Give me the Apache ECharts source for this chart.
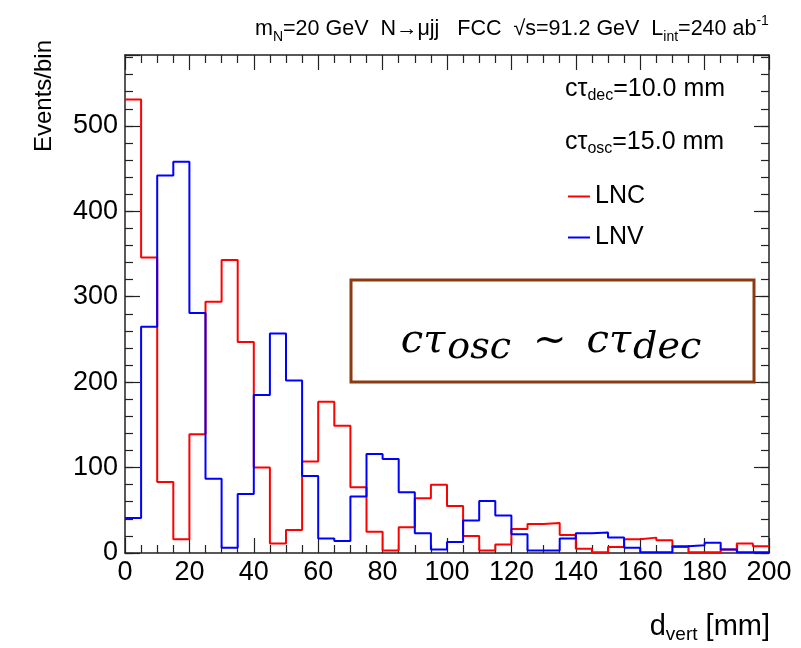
<!DOCTYPE html>
<html>
<head>
<meta charset="utf-8">
<script src="https://cdn.jsdelivr.net/npm/echarts@6/dist/echarts.min.js"></script>
<style>
html,body{margin:0;padding:0;background:#fff;}
#c{width:801px;height:648px;}
</style>
</head>
<body>
<div id="c"></div>
<script>
// bin left edges (mm), bin width 5 mm
var binStarts = [0,5,10,15,20,25,30,35,40,45,50,55,60,65,70,75,80,85,90,95,
                 100,105,110,115,120,125,130,135,140,145,150,155,160,165,170,175,180,185,190,195];
var binEnd = 200;
// LNC (red)
var lnc = [531,346,83,16,139,294,343,247,100,11,27,107,177,149,77,25,3,30,64,80,
           55,20,3,10,28,34,35,21,5,1,7,16,18,15,7,1,1,4,11,8];
// LNV (blue)
var lnv = [41,265,442,458,281,87,6,69,185,257,202,90,17,14,66,116,110,71,23,4,
           13,38,61,44,22,3,3,17,23,24,18,6,1,1,8,9,12,4,1,1];
var xTicks = [0,20,40,60,80,100,120,140,160,180,200];
var yTicks = [0,100,200,300,400,500];
var yMax = 583;

function stepData(vals){
  var d = binStarts.map(function(x,i){return [x, vals[i]];});
  d.push([binEnd, vals[vals.length-1]]);
  return d;
}

var FONT = 'Liberation Sans, Arial, Helvetica, sans-serif';
var SERIF = 'DejaVu Serif, Liberation Serif, serif';
var axisCol = '#222';

var chart = echarts.init(document.getElementById('c'), null, {renderer:'canvas'});

function xAx(pos, labels){
  return {
    type:'value', min:0, max:200, interval:20, position:pos,
    axisLine:{show:true, onZero:false, lineStyle:{color:axisCol, width:1.5}},
    axisTick:{show:true, inside:true, length:15, lineStyle:{color:axisCol, width:1.2}},
    minorTick:{show:true, splitNumber:4, length:8, lineStyle:{color:axisCol, width:1.2}},
    axisLabel:{show:labels, fontSize:27, fontFamily:FONT, color:'#000', margin:6},
    splitLine:{show:false}, minorSplitLine:{show:false}
  };
}
function yAx(pos, interval, tickLen, labels, line){
  return {
    type:'value', min:0, max:yMax, interval:interval, position:pos,
    axisLine:{show:line, onZero:false, lineStyle:{color:axisCol, width:1.5}},
    axisTick:{show:true, inside:true, length:tickLen, lineStyle:{color:axisCol, width:1.2}},
    axisLabel:{show:labels, fontSize:27, fontFamily:FONT, color:'#000', margin:7,
      formatter:function(v){ return yTicks.indexOf(v) >= 0 ? String(v) : ''; }},
    splitLine:{show:false}
  };
}

var option = {
  backgroundColor:'#fff',
  animation:false,
  grid:{left:125, top:55, right:32, bottom:95},
  xAxis:[ xAx('bottom', true), xAx('top', false) ],
  yAxis:[
    yAx('left', 100, 15, true, true),
    yAx('left', 20, 8, false, false),
    yAx('right', 100, 15, false, true),
    yAx('right', 20, 8, false, false)
  ],
  legend:{
    orient:'vertical', left:568, top:184, padding:0,
    itemWidth:22, itemHeight:2, itemGap:16, icon:'rect',
    textStyle:{fontSize:25, fontFamily:FONT, color:'#000', padding:[0,0,0,0]},
    data:['LNC','LNV']
  },
  series:[
    {name:'LNC', type:'line', step:'end', symbol:'none', xAxisIndex:0, yAxisIndex:0,
     data:stepData(lnc), color:'#ff0000', lineStyle:{color:'#ff0000', width:2}},
    {name:'LNV', type:'line', step:'end', symbol:'none', xAxisIndex:0, yAxisIndex:0,
     data:stepData(lnv), color:'#0000ff', lineStyle:{color:'#0000ff', width:2}}
  ],
  graphic:[
    // top title
    {type:'text', left:255, top:14, z:10, style:{
      text:'{m|m}{s|N}{m|=20 GeV  N\u2192\u03bcjj   FCC  \u221as=91.2 GeV  L}{s|int}{m|=240 ab}{p|-1}',
      rich:{
        m:{fontSize:21.5, fontFamily:FONT, lineHeight:30, verticalAlign:'middle', fill:'#000'},
        s:{fontSize:14, fontFamily:FONT, lineHeight:15, verticalAlign:'bottom', fill:'#000'},
        p:{fontSize:14, fontFamily:FONT, lineHeight:15, verticalAlign:'top', fill:'#000'}
      }
    }},
    // ctau labels
    {type:'text', left:565, top:77, z:10, style:{
      text:'{m|c\u03c4}{s|dec}{m|=10.0 mm}',
      rich:{
        m:{fontSize:25, fontFamily:FONT, lineHeight:28, verticalAlign:'middle', fill:'#000'},
        s:{fontSize:16, fontFamily:FONT, lineHeight:14, verticalAlign:'bottom', fill:'#000'}
      }
    }},
    {type:'text', left:565, top:130, z:10, style:{
      text:'{m|c\u03c4}{s|osc}{m|=15.0 mm}',
      rich:{
        m:{fontSize:25, fontFamily:FONT, lineHeight:28, verticalAlign:'middle', fill:'#000'},
        s:{fontSize:16, fontFamily:FONT, lineHeight:14, verticalAlign:'bottom', fill:'#000'}
      }
    }},
    // y axis title
    {type:'text', x:44, y:96, rotation:Math.PI/2, z:10, style:{
      text:'Events/bin', fontSize:24, fontFamily:FONT, fill:'#000',
      align:'center', verticalAlign:'middle'
    }},
    // x axis title
    {type:'text', right:31, top:612, z:10, style:{
      text:'{m|d}{s|vert}{m| [mm]}',
      rich:{
        m:{fontSize:29, fontFamily:FONT, lineHeight:36, verticalAlign:'middle', fill:'#000'},
        s:{fontSize:19, fontFamily:FONT, lineHeight:16, verticalAlign:'bottom', fill:'#000'}
      }
    }},
    // annotation box
    {type:'rect', z:20, shape:{x:351, y:280, width:403, height:102},
     style:{fill:'#fff', stroke:'#8b3a12', lineWidth:3}},
    {type:'text', x:551, y:342, z:21, style:{
      text:'{m|c\u03c4}{s|osc}{t|~}{m|c\u03c4}{s|dec}',
      align:'center', verticalAlign:'middle',
      rich:{
        m:{fontSize:40, fontFamily:SERIF, fontStyle:'italic', lineHeight:50, verticalAlign:'middle', fill:'#000', padding:[0,2,0,0]},
        s:{fontSize:38, fontFamily:SERIF, fontStyle:'italic', lineHeight:34, verticalAlign:'bottom', fill:'#000'},
        t:{fontSize:40, fontFamily:SERIF, lineHeight:50, verticalAlign:'middle', fill:'#000', padding:[0,20,0,22]}
      }
    }}
  ]
};
chart.setOption(option);
</script>
</body>
</html>
